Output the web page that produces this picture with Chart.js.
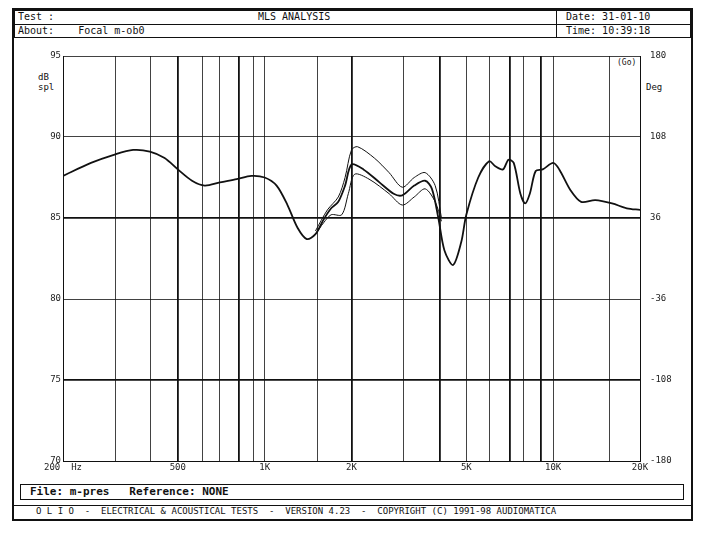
<!DOCTYPE html>
<html><head><meta charset="utf-8">
<script src="https://cdn.jsdelivr.net/npm/chart.js@4"></script>
<style>
body{margin:0;background:#fff;font-family:"DejaVu Sans Mono",monospace;font-size:10px;color:#111}
.b{position:absolute;border:1px solid #111;box-sizing:border-box}
.t{position:absolute;white-space:pre}
</style></head><body>
<div class="b" style="left:12px;top:8px;width:681px;height:513px;border-width:2px"></div>
<div class="b" style="left:14px;top:10px;width:677px;height:28px"></div>
<div class="b" style="left:556px;top:10px;width:135px;height:28px"></div>
<div class="b" style="left:14px;top:24px;width:677px;height:1px;border-width:1px 0 0 0"></div>
<div class="t" style="left:18px;top:11px">Test :</div>
<div class="t" style="left:258px;top:11px">MLS ANALYSIS</div>
<div class="t" style="left:18px;top:25px">About:    Focal m-ob0</div>
<div class="t" style="left:566px;top:11px">Date: 31-01-10</div>
<div class="t" style="left:566px;top:25px">Time: 10:39:18</div>
<div class="t" style="left:38px;top:72px;font-size:9px;line-height:10px">dB<br>spl</div>
<div class="t" style="left:617px;top:58px;font-size:8px">(Go)</div>
<div class="t" style="left:646px;top:82px;font-size:9px">Deg</div>
<div class="b" style="left:20px;top:484px;width:664px;height:16px"></div>
<div class="t" style="left:30px;top:485px;font-size:11px;font-weight:bold">File: m-pres   Reference: NONE</div>
<div class="b" style="left:14px;top:505px;width:677px;height:1px;border-width:1px 0 0 0"></div>
<div class="t" style="left:36px;top:506px;font-size:9px">O L I O  -  ELECTRICAL &amp; ACOUSTICAL TESTS  -  VERSION 4.23  -  COPYRIGHT (C) 1991-98 AUDIOMATICA</div>
<div style="position:absolute;left:14px;top:42px;width:676px;height:438px"><canvas id="c"></canvas></div>
<script>
const mainFreq = [200,250,300,350,400,450,500,560,620,700,800,900,1000,1100,1200,1300,1400,1500,1600,1700,1800,1900,2000,2200,2500,2800,3000,3300,3600,3800,4000,4200,4500,4800,5000,5500,6000,6300,6700,7000,7300,7700,8000,8300,8700,9200,10000,10500,11500,12500,14000,16000,18000,20000];
const mainDb = [87.6,88.4,88.9,89.2,89.1,88.7,88.0,87.3,87.0,87.2,87.4,87.6,87.5,87.0,85.8,84.4,83.7,84.0,84.9,85.6,86.0,87.0,88.3,88.0,87.2,86.5,86.4,87.0,87.3,86.8,85.0,83.0,82.1,83.5,85.2,87.5,88.5,88.2,88.0,88.6,88.4,86.5,85.9,86.5,87.9,88.0,88.4,88.0,86.7,86.0,86.1,85.9,85.6,85.5];
const upperFreq = [1500,1650,1800,1900,2000,2100,2400,2700,3000,3300,3600,3900,4100];
const upperDb = [84.2,85.5,86.3,87.5,89.2,89.4,88.7,87.8,86.9,87.5,87.8,87.0,85.0];
const lowerFreq = [1500,1600,1700,1850,1950,2050,2300,2700,3000,3300,3600,3900,4100];
const lowerDb = [84.0,84.7,85.2,85.2,86.5,87.7,87.4,86.5,85.8,86.3,86.8,86.0,84.8];
const gridFreq = [200,305,403,500,611,700,815,912,1000,1520,2000,3040,4050,5000,6040,7080,7900,9070,10000,15700,20000];
const thickFreq = [500,815,2000,4050,7080,9070];
const freqLabels = {200:'200  Hz',500:'500',1000:'1K',2000:'2K',5000:'5K',10000:'10K',20000:'20K'};
const dbTicks = [70,75,80,85,90,95];
const degTicks = [-180,-108,-36,36,108,180];

const pts = (f, d) => f.map((x, i) => ({x: x, y: d[i]}));
const line = (data, w) => ({data: data, borderColor: '#111', borderWidth: w, pointRadius: 0, tension: 0.3, fill: false});

new Chart(document.getElementById('c'), {
  type: 'line',
  data: {datasets: [line(pts(upperFreq, upperDb), 1), line(pts(lowerFreq, lowerDb), 1), line(pts(mainFreq, mainDb), 1.8)]},
  options: {
    responsive: true, maintainAspectRatio: false, animation: false,
    layout: {padding: {top: 14}},
    plugins: {legend: {display: false}, tooltip: {enabled: false}},
    scales: {
      x: {
        type: 'logarithmic', min: 200, max: 20000,
        afterBuildTicks: s => { s.ticks = gridFreq.map(v => ({value: v})); },
        afterFit: s => { s.height = 19; },
        ticks: {autoSkip: false, maxRotation: 0, color: '#222', font: {family: 'DejaVu Sans Mono', size: 9}, padding: 1,
          callback: v => freqLabels[v] || ''},
        grid: {color: '#111', lineWidth: c => thickFreq.includes(c.tick && c.tick.value) ? 1.8 : 0.8, drawTicks: false},
        border: {color: '#111', width: 1}
      },
      y: {
        min: 70, max: 95,
        afterBuildTicks: s => { s.ticks = dbTicks.map(v => ({value: v})); },
        afterFit: s => { s.width = 49; },
        ticks: {color: '#222', font: {family: 'DejaVu Sans Mono', size: 9}, padding: 2},
        grid: {color: '#111', lineWidth: c => (c.tick && (c.tick.value === 85 || c.tick.value === 75)) ? 1.8 : 0.8, drawTicks: false},
        border: {color: '#111', width: 1}
      },
      y2: {
        position: 'right', min: -180, max: 180,
        afterBuildTicks: s => { s.ticks = degTicks.map(v => ({value: v})); },
        afterFit: s => { s.width = 50; },
        ticks: {color: '#222', font: {family: 'DejaVu Sans Mono', size: 9}, padding: 2},
        grid: {display: false},
        border: {color: '#111', width: 1}
      }
    }
  }
});
</script>
</body></html>
